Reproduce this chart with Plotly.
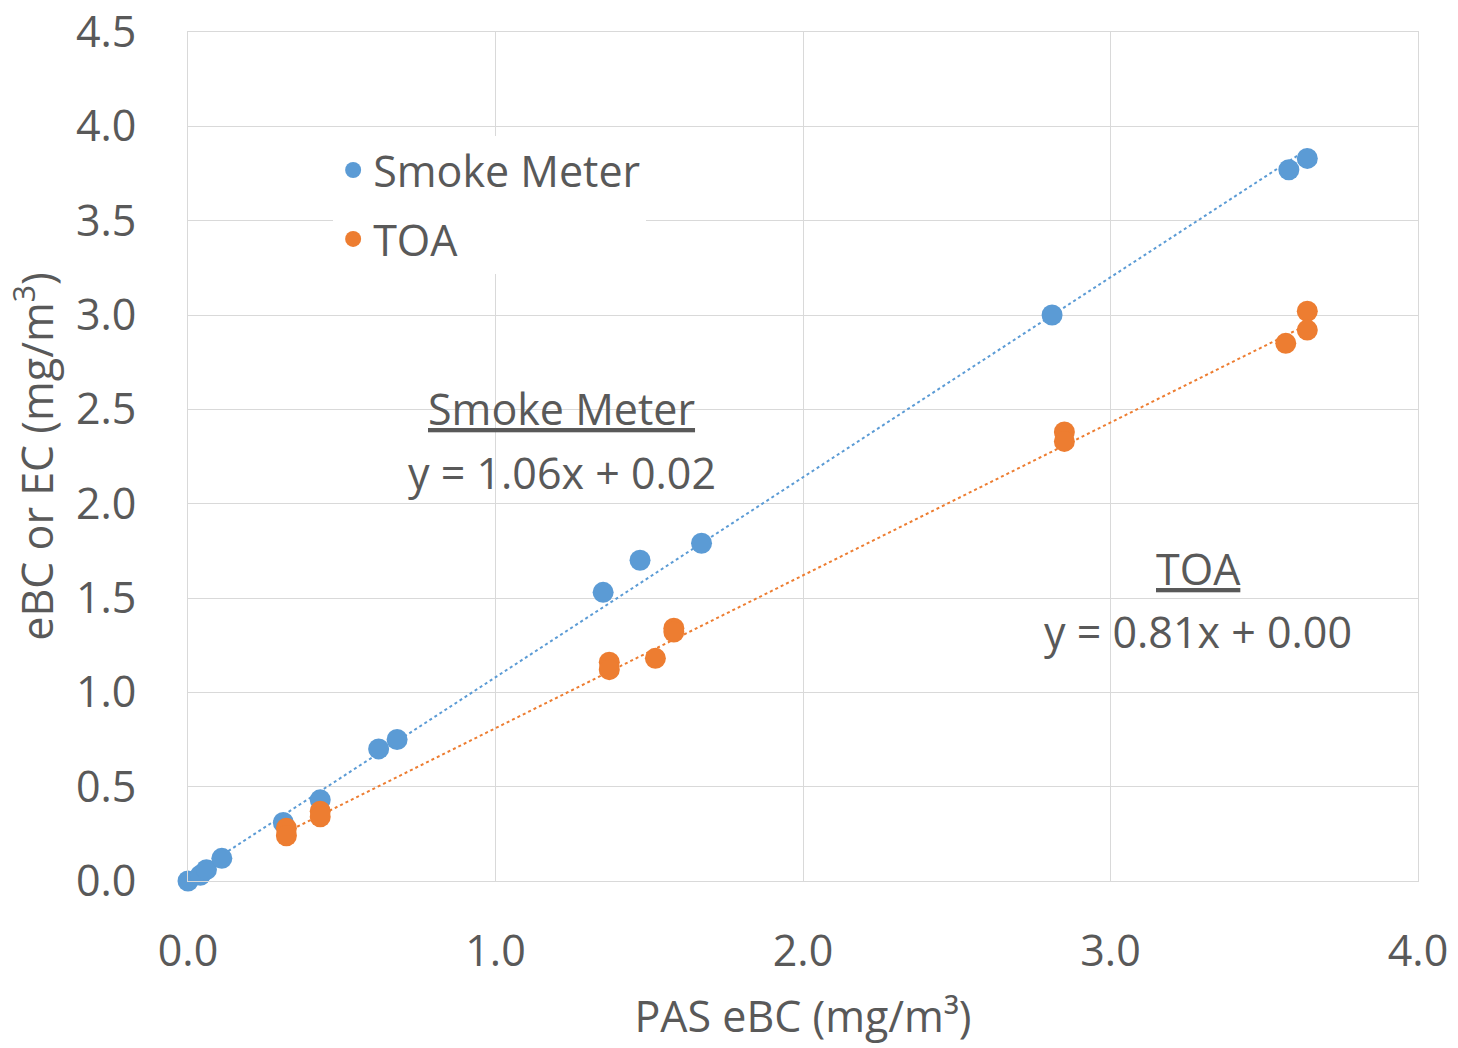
import plotly.graph_objects as go
import numpy as np

# Data
sm_x = [0.00, 0.04, 0.06, 0.11, 0.31, 0.43, 0.62, 0.68, 1.35, 1.47, 1.67, 2.81, 3.58, 3.64]
sm_y = [0.00, 0.03, 0.06, 0.12, 0.31, 0.43, 0.70, 0.75, 1.53, 1.70, 1.79, 3.00, 3.77, 3.83]

toa_x = [0.32, 0.32, 0.43, 0.43, 1.37, 1.37, 1.52, 1.58, 1.58, 2.85, 2.85, 3.57, 3.64, 3.64]
toa_y = [0.28, 0.24, 0.37, 0.34, 1.16, 1.12, 1.18, 1.34, 1.32, 2.38, 2.33, 2.85, 3.02, 2.92]

sm_fit = (1.06, 0.02)
toa_fit = (0.81, 0.00)

x_ticks = [0.0, 1.0, 2.0, 3.0, 4.0]
y_ticks = [0.0, 0.5, 1.0, 1.5, 2.0, 2.5, 3.0, 3.5, 4.0, 4.5]

BLUE = "#5B9BD5"
ORANGE = "#ED7D31"
TXT = "#595959"
GRID = "#D9D9D9"
FONT = "Open Sans, Lato, sans-serif"
FS = 43

fig = go.Figure()

sx = np.array([min(sm_x), max(sm_x)])
tx = np.array([min(toa_x), max(toa_x)])
fig.add_trace(go.Scatter(x=sx, y=sm_fit[0] * sx + sm_fit[1], mode="lines",
                         line=dict(color=BLUE, width=2, dash="dot"),
                         showlegend=False, hoverinfo="skip"))
fig.add_trace(go.Scatter(x=tx, y=toa_fit[0] * tx + toa_fit[1], mode="lines",
                         line=dict(color=ORANGE, width=2, dash="dot"),
                         showlegend=False, hoverinfo="skip"))

fig.add_trace(go.Scatter(x=sm_x, y=sm_y, mode="markers", name="Smoke Meter",
                         legendgroup="a", cliponaxis=False,
                         marker=dict(color=BLUE, size=21)))
fig.add_trace(go.Scatter(x=toa_x, y=toa_y, mode="markers", name="TOA",
                         legendgroup="b", cliponaxis=False,
                         marker=dict(color=ORANGE, size=21)))

for x, y, t in [(1.216, 2.507, "<u>Smoke Meter</u>"),
                (1.216, 2.167, "y = 1.06x + 0.02"),
                (3.285, 1.659, "<u>TOA</u>"),
                (3.285, 1.320, "y = 0.81x + 0.00")]:
    fig.add_annotation(x=x, y=y, xref="x", yref="y", text=t,
                       showarrow=False, align="center",
                       font=dict(family=FONT, size=FS, color=TXT))

fig.update_layout(
    width=1458, height=1048,
    margin=dict(l=188, r=40, t=32, b=167),
    paper_bgcolor="white", plot_bgcolor="white",
    font=dict(family=FONT, color=TXT, size=FS),
    legend=dict(x=0.118, y=0.878, xanchor="left", yanchor="top",
                bgcolor="white", font=dict(size=FS, color=TXT),
                traceorder="grouped", tracegroupgap=10),
    xaxis=dict(range=[0, 4], tickvals=x_ticks,
               ticktext=[f"{v:.1f}" for v in x_ticks],
               showgrid=True, gridcolor=GRID, gridwidth=1,
               showline=True, linecolor=GRID, mirror=True, zeroline=False,
               ticks="", ticklabelstandoff=32, automargin=False,
               ticklabeloverflow="allow",
               tickfont=dict(size=FS, color=TXT),
               title=dict(text="PAS eBC (mg/m³)", standoff=24,
                          font=dict(size=FS, color=TXT))),
    yaxis=dict(range=[0, 4.5], tickvals=y_ticks,
               ticktext=[f"{v:.1f}" for v in y_ticks],
               showgrid=True, gridcolor=GRID, gridwidth=1,
               showline=True, linecolor=GRID, mirror=True, zeroline=False,
               ticks="", ticklabelstandoff=42, automargin=False,
               ticklabeloverflow="allow",
               tickfont=dict(size=FS, color=TXT),
               title=dict(text="eBC or EC (mg/m<sup>3</sup>)", standoff=8,
                          font=dict(size=FS, color=TXT))),
)

fig.write_html("out.html")
